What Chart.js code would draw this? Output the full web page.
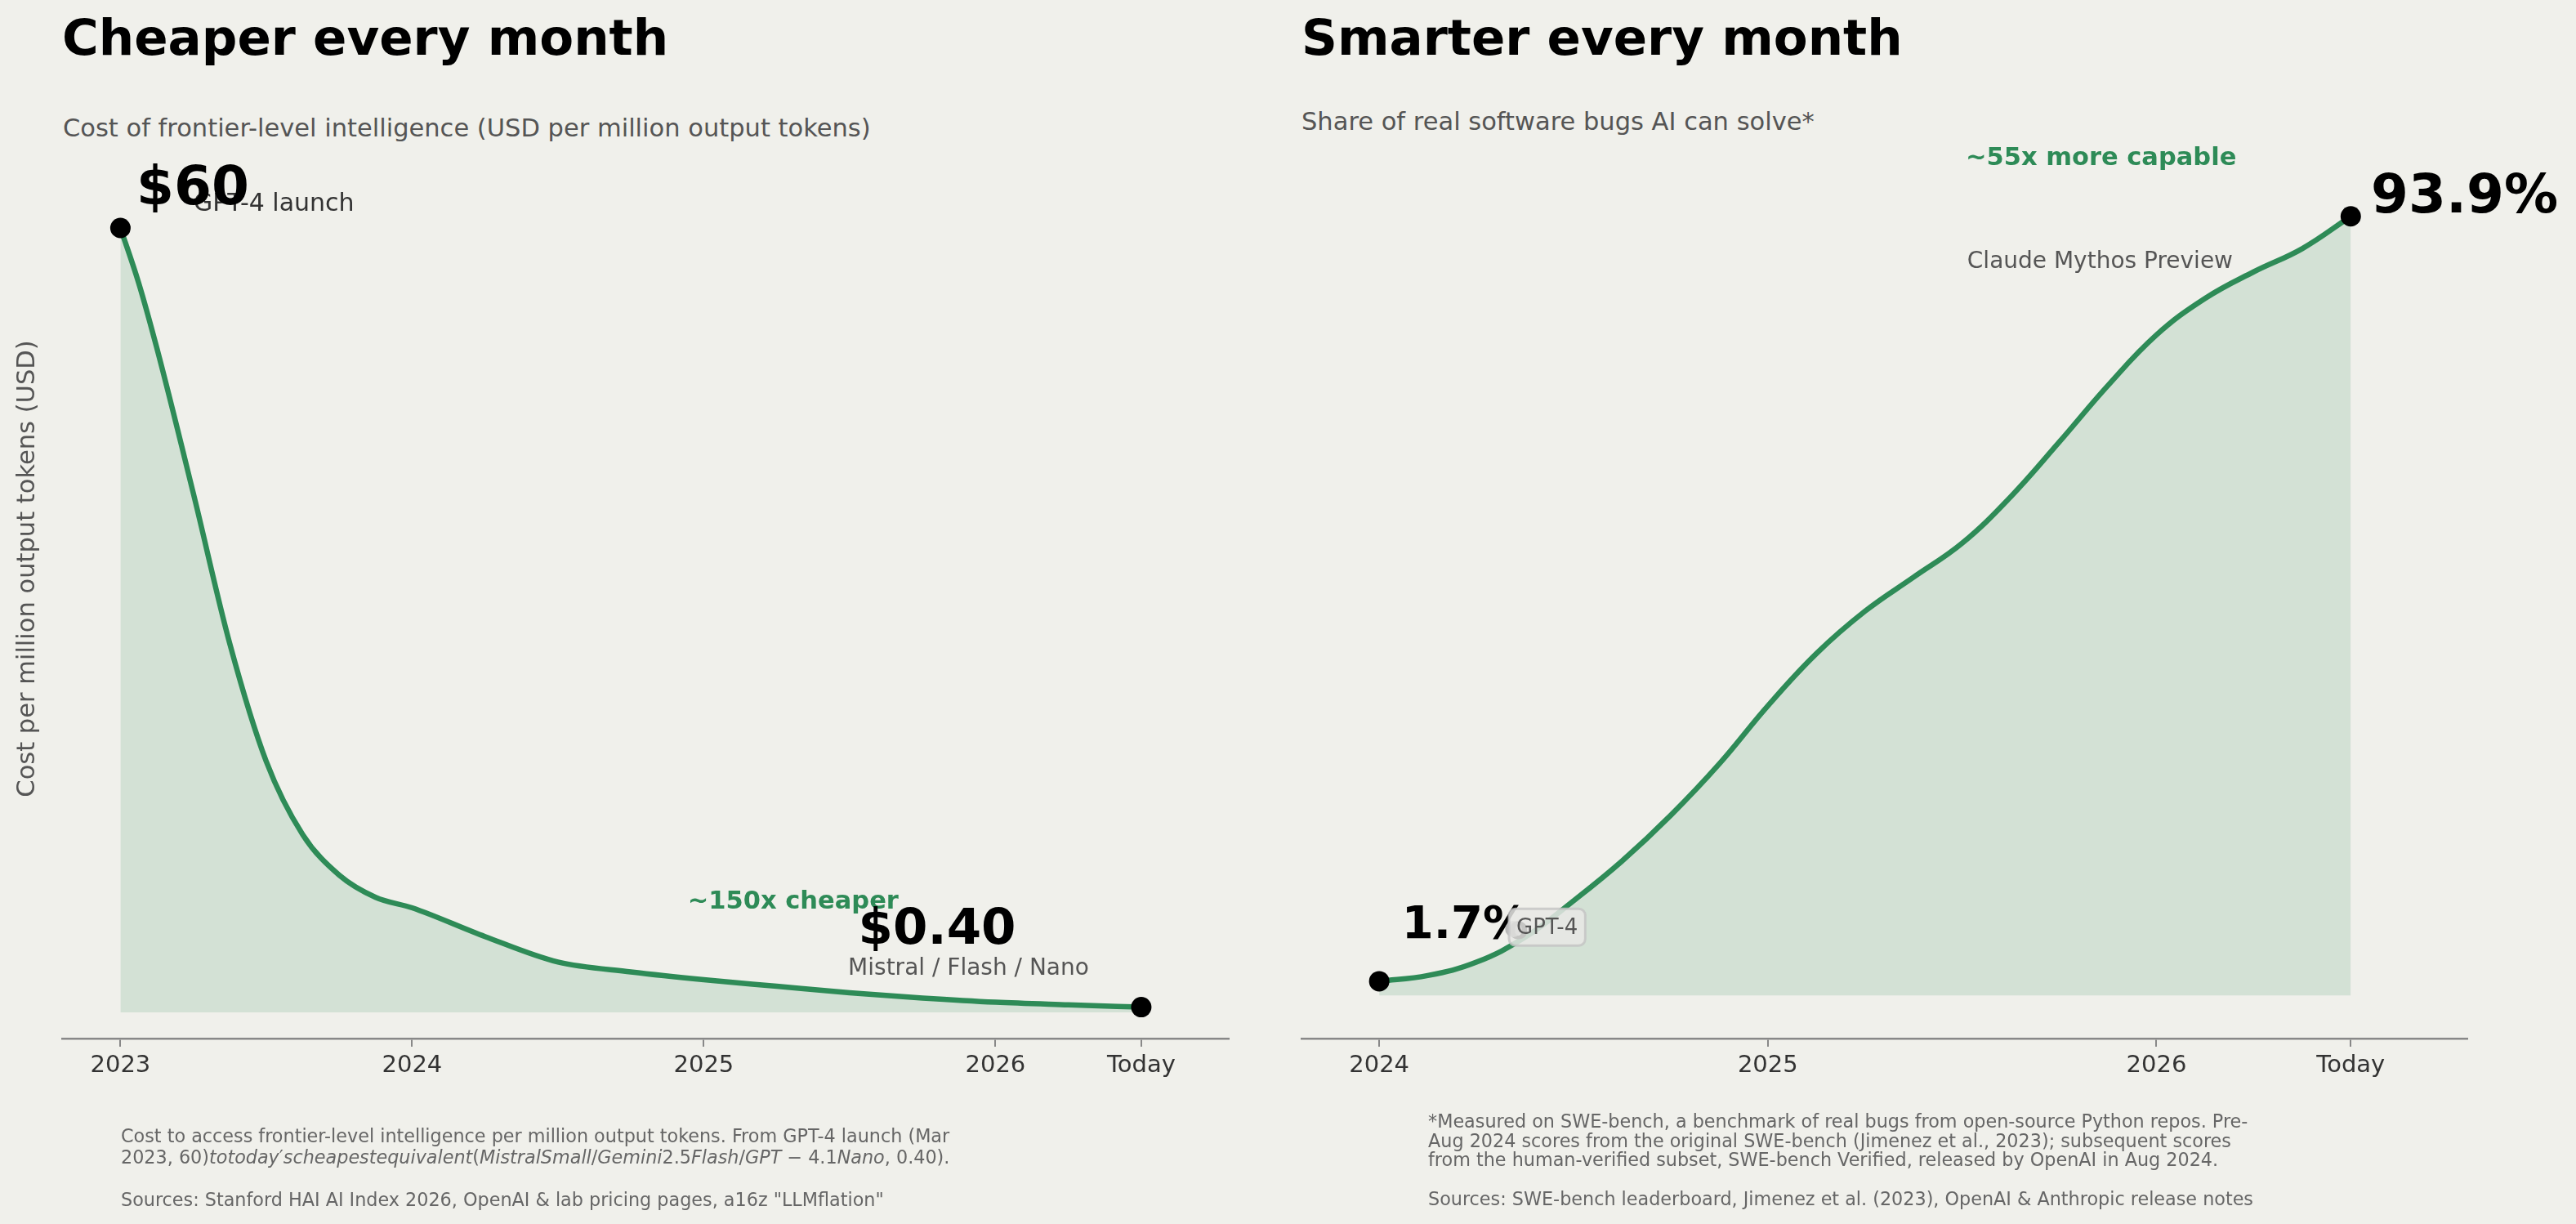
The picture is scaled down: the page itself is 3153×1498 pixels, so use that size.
<!DOCTYPE html>
<html>
<head>
<meta charset="utf-8">
<script src="https://cdn.jsdelivr.net/npm/chart.js@4.4.1/dist/chart.umd.min.js"></script>
<style>
    html, body { margin: 0; padding: 0; background: #f0f0eb; }
    body { width: 3153px; height: 1498px; position: relative; overflow: hidden; font-family: "DejaVu Sans", sans-serif; }
    canvas { position: absolute; top: 0; }
    #costChart { left: 0; }
    #sweChart { left: 1576px; }
    .title { position: absolute; font-weight: bold; font-size: 61px; line-height: 1; color: #000; white-space: nowrap; }
    .subtitle { position: absolute; font-size: 30.5px; line-height: 1; color: #555; white-space: nowrap; }
    .note { position: absolute; font-size: 22.3px; color: #666; white-space: nowrap; }
</style>
</head>
<body>
<div class="title" style="left:76px; top:15px;">Cheaper every month</div>
<div class="subtitle" style="left:77px; top:142px;">Cost of frontier-level intelligence (USD per million output tokens)</div>
<div class="title" style="left:1593px; top:15px;">Smarter every month</div>
<div class="subtitle" style="left:1593px; top:134px;">Share of real software bugs AI can solve*</div>

<canvas id="costChart" width="1576" height="1498"></canvas>
<canvas id="sweChart" width="1577" height="1498"></canvas>

<div class="note" style="left:148px; top:1377px; line-height:26px;">
    Cost to access frontier-level intelligence per million output tokens. From GPT-4 launch (Mar<br>
    2023, 60)<i>totoday</i>′<i>scheapestequivalent</i>(<i>MistralSmall</i>/<i>Gemini</i>2.5<i>Flash</i>/<i>GPT</i> − 4.1<i>Nano</i>, 0.40).<br>
    <br>
    Sources: Stanford HAI AI Index 2026, OpenAI &amp; lab pricing pages, a16z "LLMflation"
</div>
<div class="note" style="left:1748px; top:1361px; line-height:23.7px;">
    *Measured on SWE-bench, a benchmark of real bugs from open-source Python repos. Pre-<br>
    Aug 2024 scores from the original SWE-bench (Jimenez et al., 2023); subsequent scores<br>
    from the human-verified subset, SWE-bench Verified, released by OpenAI in Aug 2024.<br>
    <br>
    Sources: SWE-bench leaderboard, Jimenez et al. (2023), OpenAI &amp; Anthropic release notes
</div>

<script>
// cost of frontier-level intelligence, USD per million output tokens
const COST_YEARS = [2023.0, 2023.0625, 2023.125, 2023.25, 2023.375, 2023.5, 2023.625, 2023.75, 2023.875,
    2024.0, 2024.25, 2024.5, 2024.75, 2025.0, 2025.25, 2025.5, 2025.75, 2026.0, 2026.25, 2026.5];
const COST_USD = [60, 55.8, 50.8, 39.7, 28.2, 19.2, 13.6, 10.5, 8.8,
    8.0, 5.8, 3.85, 3.1, 2.5, 2.0, 1.5, 1.1, 0.78, 0.58, 0.4];
const COST_TICKS = [2023, 2024, 2025, 2026, 2026.5];
const COST_TICK_LABELS = ['2023', '2024', '2025', '2026', 'Today'];

// SWE-bench score, % of tasks solved
const SWE_YEARS = [2024.0, 2024.125, 2024.25, 2024.375, 2024.5, 2024.625, 2024.75, 2024.875,
    2025.0, 2025.125, 2025.25, 2025.375, 2025.5, 2025.625, 2025.75, 2025.875,
    2026.0, 2026.125, 2026.25, 2026.375, 2026.5];
const SWE_SCORE = [1.7, 2.4, 4.0, 7.0, 11.4, 16.2, 21.7, 27.9,
    34.9, 41.2, 46.3, 50.4, 54.5, 60.1, 66.7, 73.5,
    79.6, 84.0, 87.2, 90.0, 93.9];
const SWE_TICKS = [2024, 2025, 2026, 2026.5];
const SWE_TICK_LABELS = ['2024', '2025', '2026', 'Today'];

const GREEN = '#2e8b57';
const FONT = '"DejaVu Sans"';

const COST_NOTES = [
    { text: 'GPT-4 launch', x: 2023.251, y: 61.3, font: `30px ${FONT}`, color: '#333' },
    { text: '$60', x: 2023.055, y: 61.8, font: `bold 66px ${FONT}`, color: '#000' },
    { text: '~150x cheaper', x: 2024.945, y: 7.94, font: `bold 30.5px ${FONT}`, color: GREEN },
    { text: '$0.40', x: 2025.53, y: 5.25, font: `bold 61px ${FONT}`, color: '#000' },
    { text: 'Mistral / Flash / Nano', x: 2025.495, y: 2.875, font: `28px ${FONT}`, color: '#555' },
];

const SWE_NOTES = [
    { text: '93.9%', x: 2026.552, y: 94.4, font: `bold 66px ${FONT}`, color: '#000' },
    { text: '~55x more capable', x: 2025.509, y: 100.1, font: `bold 30.5px ${FONT}`, color: GREEN },
    { text: 'Claude Mythos Preview', x: 2025.513, y: 87.7, font: `28px ${FONT}`, color: '#555' },
    { text: '1.7%', x: 2024.058, y: 6.9, font: `bold 56px ${FONT}`, color: '#000' },
    { text: 'GPT-4', x: 2024.353, y: 7.39, font: `26px ${FONT}`, color: '#555', box: true, dot: { x: 2024.345, y: 8.0 } },
];

function roundRect(ctx, x, y, w, h, r) {
    ctx.beginPath();
    ctx.moveTo(x + r, y);
    ctx.arcTo(x + w, y, x + w, y + h, r);
    ctx.arcTo(x + w, y + h, x, y + h, r);
    ctx.arcTo(x, y + h, x, y, r);
    ctx.arcTo(x, y, x + w, y, r);
    ctx.closePath();
}

const notesPlugin = {
    id: 'notes',
    afterDatasetsDraw(chart, args, opts) {
        const { ctx, scales: { x, y } } = chart;
        ctx.save();
        ctx.textBaseline = 'alphabetic';
        ctx.textAlign = 'left';
        (opts.items || []).forEach((n) => {
            const px = x.getPixelForValue(n.x);
            const py = y.getPixelForValue(n.y);
            ctx.font = n.font;
            if (n.dot) {
                ctx.fillStyle = 'rgba(170,170,170,0.8)';
                ctx.beginPath();
                ctx.arc(x.getPixelForValue(n.dot.x), y.getPixelForValue(n.dot.y), 10, 0, Math.PI * 2);
                ctx.fill();
            }
            if (n.box) {
                const w = ctx.measureText(n.text).width;
                roundRect(ctx, px - 9, py - 31, w + 18, 45, 8);
                ctx.fillStyle = 'rgba(232,232,229,0.85)';
                ctx.fill();
                ctx.lineWidth = 3;
                ctx.strokeStyle = 'rgba(195,195,195,0.8)';
                ctx.stroke();
            }
            ctx.fillStyle = n.color;
            ctx.fillText(n.text, px, py);
        });
        // rotated y axis title
        ctx.font = `30.5px ${FONT}`;
        ctx.fillStyle = '#555';
        ctx.textAlign = 'center';
        ctx.textBaseline = 'middle';
        ctx.translate(opts.titleX, opts.titleY);
        ctx.rotate(-Math.PI / 2);
        ctx.fillText(opts.title, 0, 0);
        ctx.restore();
    },
};

function makeChart(id, { years, values, ticks, tickLabels, xMin, xMax, yMin, yMax, padding, notes, title, titleX, smooth }) {
    const last = values.length - 1;
    return new Chart(document.getElementById(id), {
        type: 'line',
        data: {
            datasets: [{
                data: years.map((yr, i) => ({ x: yr, y: values[i] })),
                borderColor: GREEN,
                borderWidth: 6.5,
                backgroundColor: 'rgba(46,139,87,0.15)',
                fill: 'origin',
                cubicInterpolationMode: smooth ? 'default' : 'monotone',
                tension: 0.4,
                pointRadius: (c) => (c.dataIndex === 0 || c.dataIndex === last ? 12.5 : 0),
                pointBackgroundColor: '#000',
                pointBorderWidth: 0,
                pointHoverRadius: 0,
                clip: false,
            }],
        },
        options: {
            responsive: false,
            animation: false,
            devicePixelRatio: 1,
            layout: { padding },
            plugins: {
                legend: { display: false },
                tooltip: { enabled: false },
                notes: { items: notes, title, titleX, titleY: 696 },
            },
            scales: {
                x: {
                    type: 'linear',
                    min: xMin,
                    max: xMax,
                    afterFit: (s) => { s.height = 80; },
                    afterBuildTicks: (s) => { s.ticks = ticks.map((v) => ({ value: v })); },
                    border: { display: true, color: '#888', width: 2.5 },
                    grid: { drawOnChartArea: false, drawTicks: true, tickLength: 10, color: '#888', lineWidth: 2 },
                    ticks: {
                        autoSkip: false,
                        maxRotation: 0,
                        padding: 6,
                        color: '#333',
                        font: { family: 'DejaVu Sans', size: 29 },
                        callback: (v, i) => tickLabels[i],
                    },
                },
                y: { display: false, min: yMin, max: yMax },
            },
        },
        plugins: [notesPlugin],
    });
}

makeChart('costChart', {
    years: COST_YEARS, values: COST_USD, ticks: COST_TICKS, tickLabels: COST_TICK_LABELS,
    xMin: 2022.8, xMax: 2026.8, yMin: -2, yMax: 63,
    padding: { left: 76, right: 72, top: 231, bottom: 147 },
    notes: COST_NOTES, title: 'Cost per million output tokens (USD)', titleX: 34, smooth: false,
});

makeChart('sweChart', {
    years: SWE_YEARS, values: SWE_SCORE, ticks: SWE_TICKS, tickLabels: SWE_TICK_LABELS,
    xMin: 2023.8, xMax: 2026.8, yMin: -5.2, yMax: 98.6,
    padding: { left: 17, right: 133, top: 217, bottom: 147 },
    notes: SWE_NOTES, title: 'Score on SWE-bench (% of tasks solved)', titleX: 1548 - 1576, smooth: true,
});
</script>
</body>
</html>
